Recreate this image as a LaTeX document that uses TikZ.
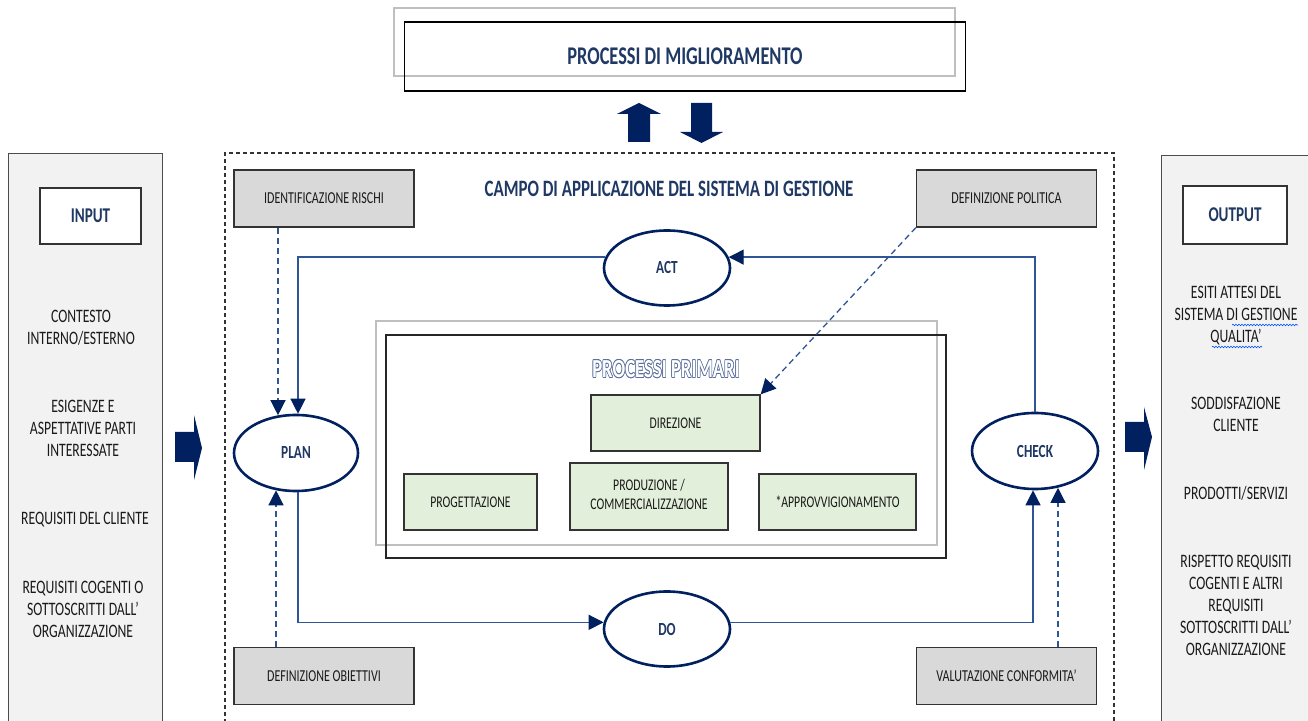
\documentclass[tikz,border=0pt]{standalone}
\usepackage{fontspec}
\setmainfont{Carlito}
\usetikzlibrary{arrows.meta,shapes.geometric,decorations.pathmorphing}
\definecolor{navy}{HTML}{002060}
\definecolor{navyt}{HTML}{1F3864}
\definecolor{linec}{HTML}{2F5597}
\definecolor{grayfill}{HTML}{D9D9D9}
\definecolor{greenfill}{HTML}{E2EFDA}
\definecolor{panelfill}{HTML}{F2F2F2}
\definecolor{ltgray}{HTML}{BFBFBF}
\definecolor{txt}{HTML}{1A1A1A}
\definecolor{ppc}{HTML}{5A6F9A}
\newcommand\sq[1]{\scalebox{0.72}[1]{#1}}
\newcommand\ml[1]{\sq{\begin{tabular}{@{}c@{}}#1\end{tabular}}}
\newcommand\hollow[1]{{\leavevmode
 \def\oo##1##2{\rlap{\raisebox{##2}{\kern##1\textcolor{ppc}{#1}}}}%
 \oo{.8pt}{0pt}\oo{-.8pt}{0pt}\oo{0pt}{.8pt}\oo{0pt}{-.8pt}%
 \oo{.6pt}{.6pt}\oo{-.6pt}{.6pt}\oo{.6pt}{-.6pt}\oo{-.6pt}{-.6pt}%
 \textcolor{white}{#1}}}
\begin{document}
\begin{tikzpicture}[x=1pt,y=1pt,
  grbox/.style={draw=black!80, line width=1.3pt, fill=grayfill, inner sep=0pt,
    minimum width=180pt, minimum height=57pt, font=\fontsize{16.7}{19}\selectfont, text=txt},
  gnbox/.style={draw=black!80, line width=1.3pt, fill=greenfill, inner sep=0pt,
    minimum height=56pt, font=\fontsize{16.3}{19}\selectfont, text=txt},
  ell/.style={ellipse, draw=navy, line width=2.6pt, fill=white, inner sep=0pt,
    minimum width=126pt, minimum height=75pt, font=\bfseries\fontsize{18.5}{21}\selectfont, text=navyt},
  ptext/.style={font=\fontsize{19}{22}\selectfont, text=txt, inner sep=0pt},
  hbox/.style={draw=black!80, line width=1.3pt, fill=white, inner sep=0pt,
    font=\bfseries\fontsize{21}{24}\selectfont, text=navyt},
  conn/.style={linec, line width=1.3pt, -{Triangle[length=15pt,width=15pt,color=navy]}},
  dconn/.style={conn, dash pattern=on 6pt off 4pt},
]
\useasboundingbox (0,0) rectangle (1308,720);
\clip (0,0) rectangle (1308,720);

% top improvement box
\node[draw=ltgray, line width=1.2pt, minimum width=561pt, minimum height=68pt, inner sep=0pt] (topg) at (674.5,678) {};
\node[draw=black, line width=1.4pt, minimum width=561pt, minimum height=69pt, inner sep=0pt,
  font=\bfseries\fontsize{25.5}{29}\selectfont, text=navyt] (top) at (685,663.5) {\sq{PROCESSI DI MIGLIORAMENTO}};

% block arrows up / down
\fill[navy] (628,578) -- (650,578) -- (650,606) -- (661,606) -- (639,617) -- (617,606) -- (628,606) -- cycle;
\fill[navy] (691,617) -- (712,617) -- (712,588) -- (723,588) -- (701.5,577) -- (680,588) -- (691,588) -- cycle;

% left panel
\node[draw=black!70, line width=1.2pt, fill=panelfill, minimum width=154pt, minimum height=600pt, inner sep=0pt, anchor=north west] (inpanel) at (8,567) {};
\node[hbox, minimum width=101pt, minimum height=56pt] (input) at (90.5,504) {\sq{INPUT}};
\node[ptext] (in1) at (81,391) {\ml{CONTESTO\\INTERNO/ESTERNO}};
\node[ptext] (in2) at (83,290) {\ml{ESIGENZE E\\ASPETTATIVE PARTI\\INTERESSATE}};
\node[ptext] (in3) at (85,200) {\ml{REQUISITI DEL CLIENTE}};
\node[ptext] (in4) at (83,109) {\ml{REQUISITI COGENTI O\\SOTTOSCRITTI DALL'\\ORGANIZZAZIONE}};

% right panel
\node[draw=black!70, line width=1.2pt, fill=panelfill, minimum width=170pt, minimum height=600pt, inner sep=0pt, anchor=north west] (outpanel) at (1161,565) {};
\node[hbox, minimum width=104pt, minimum height=58pt] (output) at (1235,505) {\sq{OUTPUT}};
\node[ptext] (out1) at (1236,404) {\ml{ESITI ATTESI DEL\\SISTEMA DI GESTIONE\\QUALITA'}};
\node[ptext] (out2) at (1236,304) {\ml{SODDISFAZIONE\\CLIENTE}};
\node[ptext] (out3) at (1236,225) {\ml{PRODOTTI/SERVIZI}};
\node[ptext] (out4) at (1236,113) {\ml{RISPETTO REQUISITI\\COGENTI E ALTRI\\REQUISITI\\SOTTOSCRITTI DALL'\\ORGANIZZAZIONE}};

% side block arrows
\fill[navy] (175,288) -- (194,288) -- (194,305) -- (202,272) -- (194,240) -- (194,258) -- (175,258) -- cycle;
\fill[navy] (1125,298) -- (1144,298) -- (1144,313) -- (1152,283) -- (1144,250) -- (1144,268) -- (1125,268) -- cycle;

% dashed scope frame
\draw[black!80, line width=1.1pt, dash pattern=on 4pt off 3pt] (225,-10) -- (225,567) -- (1114,567) -- (1114,-10);
\node[font=\bfseries\fontsize{23.5}{27}\selectfont, text=navyt, inner sep=0pt] (campo) at (669,531)
  {\sq{CAMPO DI APPLICAZIONE DEL SISTEMA DI GESTIONE}};

% grey boxes
\node[grbox] (idr) at (324,521.5) {\sq{IDENTIFICAZIONE RISCHI}};
\node[grbox] (dpol) at (1006.5,521.5) {\sq{DEFINIZIONE POLITICA}};
\node[grbox] (dobi) at (324,44) {\sq{DEFINIZIONE OBIETTIVI}};
\node[grbox] (vcon) at (1006.5,44) {\sq{VALUTAZIONE CONFORMITA'}};

% inner process frames
\draw[ltgray, line width=1.3pt] (376,399) rectangle (937,175);
\draw[black!85, line width=1.3pt] (386,385) rectangle (946,162);
\node[font=\bfseries\fontsize{26}{30}\selectfont, inner sep=0pt] (pp) at (666,351) {\sq{\hollow{PROCESSI PRIMARI}}};

% green boxes
\node[gnbox, minimum width=169pt] (dir) at (675.5,297) {\sq{DIREZIONE}};
\node[gnbox, minimum width=133pt] (prog) at (470.5,218) {\sq{PROGETTAZIONE}};
\node[gnbox, minimum width=158pt, minimum height=67pt] (prod) at (649,223.5) {\ml{PRODUZIONE /\\COMMERCIALIZZAZIONE}};
\node[gnbox, minimum width=157pt] (appr) at (837.5,218) {\sq{*APPROVVIGIONAMENTO}};

% PDCA ellipses
\node[ell] (act) at (667,452) {\sq{ACT}};
\node[ell, minimum width=124pt, minimum height=76pt] (plan) at (296,267) {\sq{PLAN}};
\node[ell, minimum width=126pt, minimum height=76pt] (check) at (1035,269) {\sq{CHECK}};
\node[ell] (do) at (667,91) {\sq{DO}};

% cycle connectors
\draw[conn] (check.north) |- (act.10);
\draw[conn] (act.170) -| ([xshift=2pt]plan.north);
\draw[conn] ([xshift=2pt]plan.south) |- (do.174);
\draw[conn] (do.6) -| ([xshift=-2pt]check.south);

% dashed inputs
\draw[dconn] ([xshift=-46pt]idr.south) -- ([xshift=-18pt,yshift=-1.5pt]plan.north);
\draw[dconn] ([xshift=-48pt]dobi.north) -- ([xshift=-20pt,yshift=2pt]plan.south);
\draw[dconn] ([xshift=51.5pt]vcon.north) -- ([xshift=23pt,yshift=2.5pt]check.south);
\draw[dconn] (dpol.south west) -- (dir.north east);

% spell-check squiggles
\draw[blue!70!cyan, line width=0.6pt, decorate, decoration={snake, amplitude=0.8pt, segment length=3pt}] (1232,395) -- (1298,395);
\draw[blue!70!cyan, line width=0.6pt, decorate, decoration={snake, amplitude=0.8pt, segment length=3pt}] (1212,373) -- (1262,373);
\end{tikzpicture}
\end{document}
